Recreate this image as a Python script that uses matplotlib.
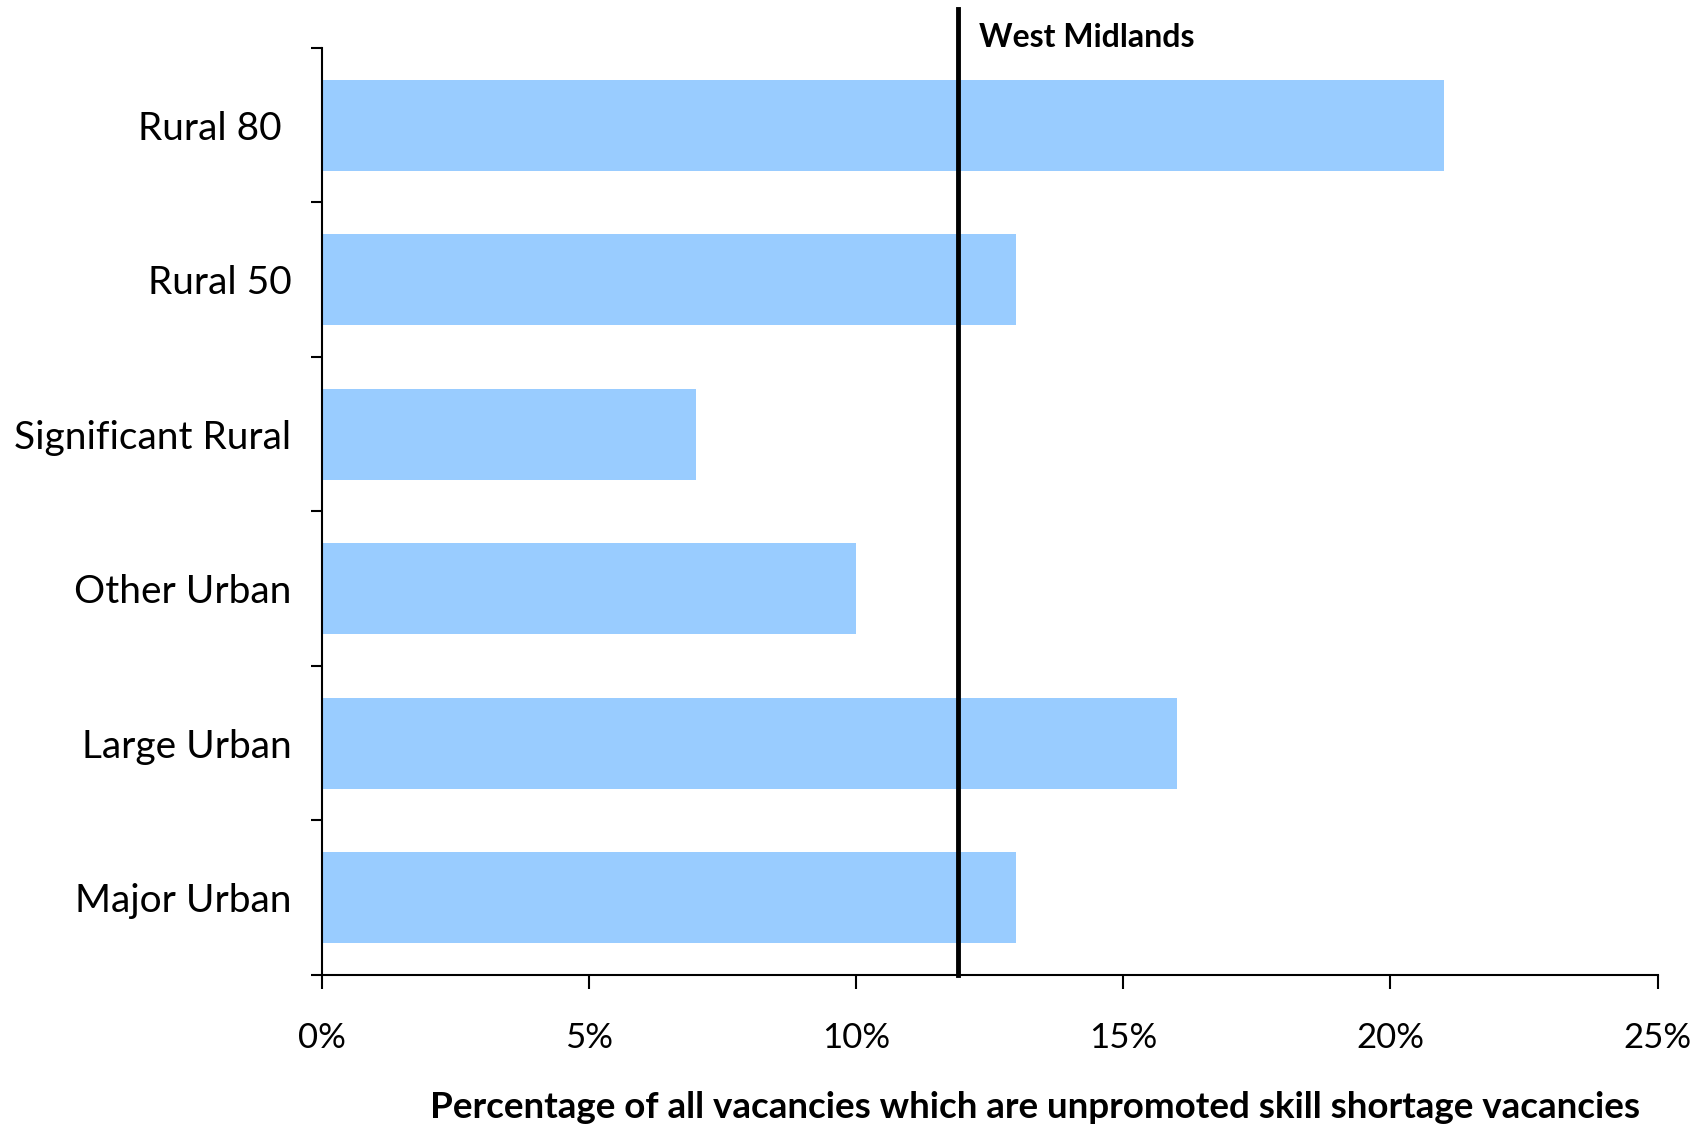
import numpy as np
import matplotlib
matplotlib.use('Agg')
import matplotlib.pyplot as plt

plt.rcParams['font.family'] = ['Lato', 'DejaVu Sans']

# Data
categories = ['Major Urban', 'Large Urban', 'Other Urban',
              'Significant Rural', 'Rural 50', 'Rural 80 ']
values = [13, 16, 10, 7, 13, 21]          # percent
region_avg = 11.9                          # West Midlands, percent
region_name = 'West Midlands'
xticks = [0, 5, 10, 15, 20, 25]
xlabel = 'Percentage of all vacancies which are unpromoted skill shortage vacancies'

BAR_COLOR = '#99ccff'

fig = plt.figure(figsize=(17.08, 11.27), dpi=100)
ax = fig.add_axes([0.1885, 0.135, 0.782, 0.8225])

y = np.arange(len(categories))
ax.barh(y, values, height=0.59, color=BAR_COLOR, zorder=2)

ax.set_xlim(0, 25)
ax.set_ylim(-0.5, len(categories) - 0.5)

# reference line, drawn above the plot area
ax.plot([region_avg, region_avg], [-0.5, len(categories) - 0.25],
        color='black', lw=3.5, zorder=3, clip_on=False)
ax.text(region_avg + 0.4, len(categories) - 0.435, region_name,
        fontsize=23, fontweight='bold', ha='left', va='center')

for s in ['top', 'right']:
    ax.spines[s].set_visible(False)
for s in ['left', 'bottom']:
    ax.spines[s].set_linewidth(1.5)

ax.set_xticks(xticks)
ax.set_xticklabels([f'{t}%' for t in xticks], fontsize=25)
ax.tick_params(axis='x', length=10, width=1.5, pad=24)

# category labels centred on bars, ticks on the boundaries
ax.set_yticks(np.arange(-0.5, len(categories), 1.0))
ax.set_yticklabels([])
ax.set_yticks(y, minor=True)
ax.set_yticklabels(categories, minor=True, fontsize=28)
ax.tick_params(axis='y', which='major', length=8, width=1.5)
ax.tick_params(axis='y', which='minor', length=0, pad=22)

fig.text(0.606, 0.017, xlabel, fontsize=26.5, fontweight='bold',
         ha='center', va='center')

fig.savefig('out.png', dpi=100, facecolor='white')
